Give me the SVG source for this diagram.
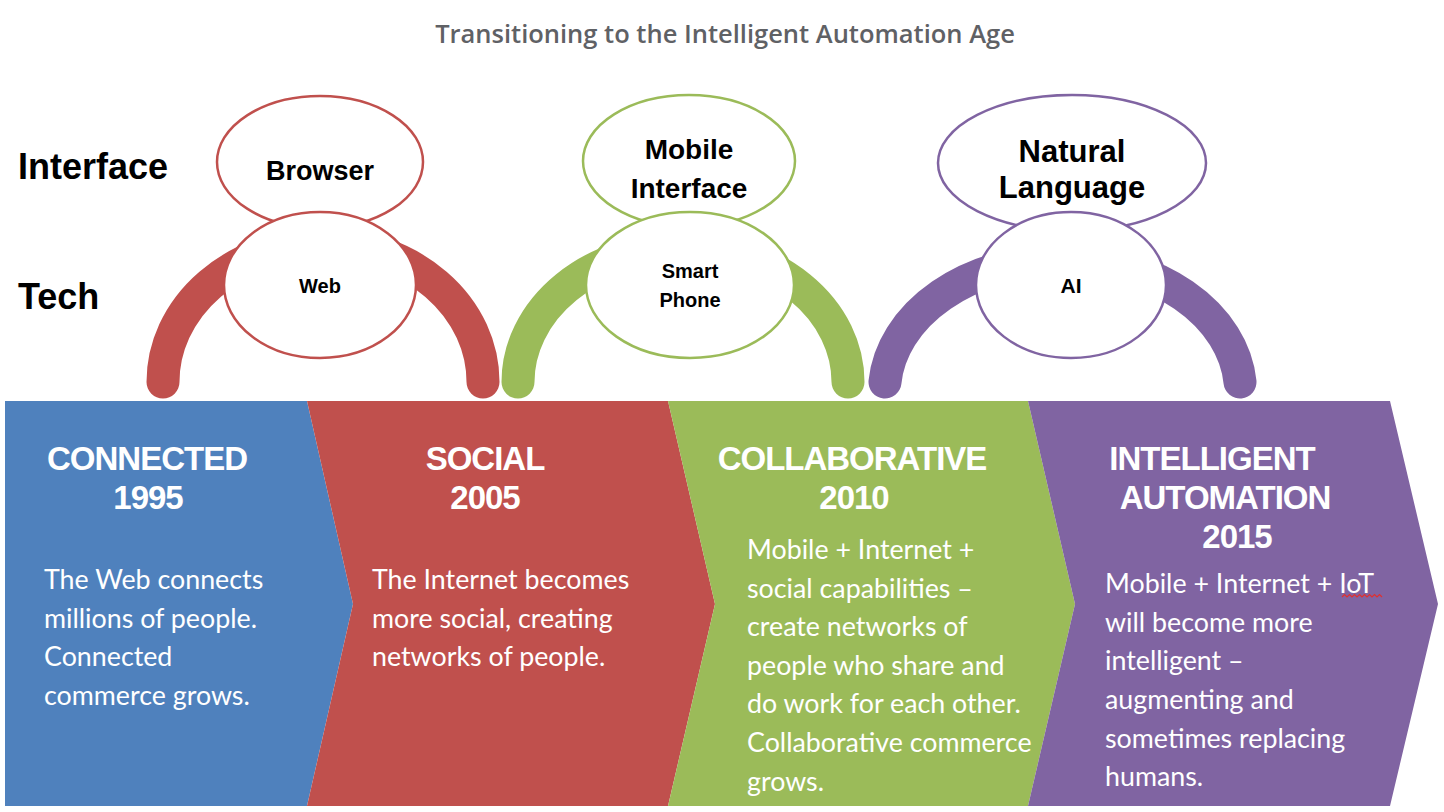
<svg xmlns="http://www.w3.org/2000/svg" width="1444" height="812" viewBox="0 0 1444 812">
<style>
.title{font-family:"Open Sans","Liberation Sans",sans-serif;font-weight:600;font-size:25.5px;fill:#5f6165}
.rowlbl{font-family:"Liberation Sans",Arial,sans-serif;font-weight:bold;font-size:36px;fill:#000}
.ell{fill:#fff;stroke-width:2.5}
.lbl{font-family:"Liberation Sans",Arial,sans-serif;font-weight:bold;fill:#000;text-anchor:middle}
.arc{fill:none;stroke-width:33;stroke-linecap:round}
.hdr{font-family:"Liberation Sans",Arial,sans-serif;font-weight:bold;font-size:33px;letter-spacing:-1px;fill:#fff;text-anchor:middle}
.body{font-family:Lato,"Open Sans",sans-serif;font-size:26.8px;fill:#fff}
.red{stroke:#C0504D}.green{stroke:#9BBB59}.purple{stroke:#8064A2}
</style>
<rect width="1444" height="812" fill="#fff"/>
<text class="title" x="725" y="43" text-anchor="middle">Transitioning to the Intelligent Automation Age</text>
<text class="rowlbl" x="18" y="179">Interface</text>
<text class="rowlbl" x="18" y="309">Tech</text>

<g id="connectors">
<path class="arc red" d="M163 382 A160 138 0 0 1 483 382"/>
<path class="arc green" d="M518 382 A165 134 0 0 1 848 382"/>
<path class="arc purple" d="M885 382 A178 132 0 0 1 1240 382"/>
</g>

<g id="stage-connected">
<polygon points="5,401 307,401 353,604 307,806 5,806" fill="#4F81BD"/>
<text class="hdr" x="147" y="470">CONNECTED</text>
<text class="hdr" x="148" y="509">1995</text>
<text class="body"><tspan x="44" y="589">The Web connects</tspan><tspan x="44" y="628">millions of people.</tspan><tspan x="44" y="666">Connected</tspan><tspan x="44" y="705">commerce grows.</tspan></text>
</g>
<g id="stage-social">
<polygon points="307,401 668,401 715,604 668,806 307,806 353,604" fill="#C0504D"/>
<text class="hdr" x="485" y="470">SOCIAL</text>
<text class="hdr" x="485" y="509">2005</text>
<text class="body"><tspan x="372" y="589">The Internet becomes</tspan><tspan x="372" y="628">more social, creating</tspan><tspan x="372" y="666">networks of people.</tspan></text>
</g>
<g id="stage-collaborative">
<polygon points="668,401 1028,401 1075,604 1028,806 668,806 715,604" fill="#9BBB59"/>
<text class="hdr" x="852" y="470">COLLABORATIVE</text>
<text class="hdr" x="854" y="509">2010</text>
<text class="body"><tspan x="747" y="559">Mobile + Internet +</tspan><tspan x="747" y="598">social capabilities –</tspan><tspan x="747" y="636">create networks of</tspan><tspan x="747" y="675">people who share and</tspan><tspan x="747" y="713">do work for each other.</tspan><tspan x="747" y="752">Collaborative commerce</tspan><tspan x="747" y="791">grows.</tspan></text>
</g>
<g id="stage-intelligent">
<polygon points="1028,401 1390,401 1438,604 1390,806 1028,806 1075,604" fill="#8064A2"/>
<text class="hdr" x="1212" y="470">INTELLIGENT</text>
<text class="hdr" x="1225" y="509">AUTOMATION</text>
<text class="hdr" x="1237" y="548">2015</text>
<text class="body"><tspan x="1105" y="593">Mobile + Internet + IoT</tspan><tspan x="1105" y="632">will become more</tspan><tspan x="1105" y="670">intelligent –</tspan><tspan x="1105" y="709">augmenting and</tspan><tspan x="1105" y="748">sometimes replacing</tspan><tspan x="1105" y="786">humans.</tspan></text>
<path d="M1342 597 l2.5 -2.5 l2.5 2.5 l2.5 -2.5 l2.5 2.5 l2.5 -2.5 l2.5 2.5 l2.5 -2.5 l2.5 2.5 l2.5 -2.5 l2.5 2.5 l2.5 -2.5 l2.5 2.5 l2.5 -2.5 l2.5 2.5 l2.5 -2.5 l2.5 2.5" fill="none" stroke="#e0302f" stroke-width="1.2"/>
</g>

<g id="node-browser">
<ellipse class="ell red" cx="320" cy="162" rx="103" ry="66"/>
<text class="lbl" x="320" y="180" font-size="27">Browser</text>
</g>
<g id="node-web">
<ellipse class="ell red" cx="320" cy="285" rx="96" ry="73"/>
<text class="lbl" x="320" y="293" font-size="20">Web</text>
</g>
<g id="node-mobile-interface">
<ellipse class="ell green" cx="689" cy="161" rx="106" ry="66"/>
<text class="lbl" x="689" y="159" font-size="28">Mobile</text>
<text class="lbl" x="689" y="198" font-size="28">Interface</text>
</g>
<g id="node-smart-phone">
<ellipse class="ell green" cx="690" cy="285" rx="104" ry="73"/>
<text class="lbl" x="690" y="278" font-size="20">Smart</text>
<text class="lbl" x="690" y="307" font-size="20">Phone</text>
</g>
<g id="node-natural-language">
<ellipse class="ell purple" cx="1072" cy="163" rx="134" ry="68"/>
<text class="lbl" x="1072" y="162" font-size="31">Natural</text>
<text class="lbl" x="1072" y="198" font-size="31">Language</text>
</g>
<g id="node-ai">
<ellipse class="ell purple" cx="1071" cy="285" rx="95" ry="73"/>
<text class="lbl" x="1071" y="293" font-size="21">AI</text>
</g>
</svg>
